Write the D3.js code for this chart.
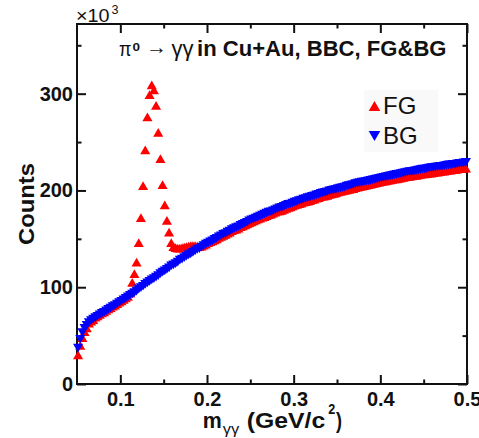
<!DOCTYPE html>
<html><head><meta charset="utf-8">
<script src="https://cdn.jsdelivr.net/npm/d3@7"></script>
<style>
html,body{margin:0;padding:0;background:#fff;}
svg{display:block;}
text{font-family:"Liberation Sans",Arial,Helvetica,sans-serif;}
</style></head><body>
<svg id="chart" width="479" height="438"></svg>
<script>
// ---- data (counts in units of 10^3) ----
const binStart = 0.05125;   // centre of first mass bin (GeV/c^2)
const binWidth = 0.0025;
const bgCounts = [37,46,53,57.5,60.5,63.5,65.5,67,68.5,70,
71.5,73,74,75.5,77,78.5,80,81,82.5,84,
85.5,87,88.5,90,91.5,93,94.5,96,98,99.5,
101,103,104.5,106,107.5,109,110.5,112,114,115.5,
117,118.5,120,122,123,124.5,126,128,129,130.5,
132,133.5,134.5,136,137.5,139,140,141.5,143,144.5,
145.5,147,148,149.5,150.5,152,153,154.5,155.5,157,
158,159.5,160.5,161.5,162.5,164,165,166,167,168.5,
169.5,170.5,171.5,172.5,173.5,174.5,175.5,176.5,177.5,178,
179,180,181,182,182.5,183.5,184.5,185.5,186,187,
188,188.5,189.5,190,191,191.5,192.5,193,194,194.5,
195.5,196,197,197.5,198,198.5,199.5,200,200.5,201,
202,202.5,203,203.5,204.5,205,205.5,206,207,207.5,
208,208.5,209,209.5,210,210.5,211,211.5,212,212.5,
213,213.5,214,214.5,215,215.5,216,216.5,217,217.5,
218,218.5,219,219.5,219.5,220,220.5,221,221.5,222,
222,222.5,223,223.5,223.5,224,224.5,225,225,225.5,
226,226.5,226.5,227,227,227.5,228,228,228.5,229];
const fgCounts = [30,40,48,54,58,63,65,66.5,69,70.5,
72,73.5,74.5,76,77.5,79,80.5,81.5,83,84.5,
86,87.5,89,90.5,94,105,114,126,146,172,
205,242,276,299,309,304,288,260,233,206,
185,169,157,146,142,141,140.5,140.5,141,141.5,
142,142.5,143,143,143,142.5,142,142.5,143.5,144.5,
146,147,148,149,150,151.5,152.5,153.5,154.5,156,
157,158.5,159.5,160,161,162.5,163.5,164.5,165.5,166.5,
167.5,168.5,169.5,170.5,171.5,172.5,173,174,175,175.5,
176.5,177.5,178.5,179,179.5,180.5,181.5,182.5,183,184,
185,185.5,186.5,187,188,188.5,189,189.5,190.5,191,
192,192.5,193.5,194,194.5,195,196,196.5,197,197.5,
198.5,199,199.5,200,200.5,201,201.5,202,203,203.5,
204,204.5,205,205.5,206,206.5,207,207.5,208,208.5,
209,209.5,210,210.5,211,211.5,212,212,212.5,213,
213.5,214,214.5,214.5,215,215.5,215.5,216,216.5,217,
217,217.5,218,218,218.5,219,219,219.5,220,220,
220.5,221,221,221.5,221.5,222,222.5,222.5,223,223];
const seriesNames = ["FG", "BG"];
const seriesColors = ["#ff0000", "#0000ff"];
const xDomain = [0.05, 0.5];
const yDomain = [0, 372];
const xTicks = [0.1, 0.2, 0.3, 0.4, 0.5];
const xTickLabels = ["0.1", "0.2", "0.3", "0.4", "0.5"];
const xMinorTicks = [0.15, 0.25, 0.35, 0.45];
const yTicks = [0, 100, 200, 300];
const yTickLabels = ["0", "100", "200", "300"];
const yMinorTicks = [50, 150, 250, 350];

// ---- layout ----
const L = 77, R = 467, T = 24, B = 384;
const svg = d3.select("#chart");
const x = d3.scaleLinear().domain(xDomain).range([L, R]);
const y = d3.scaleLinear().domain(yDomain).range([B, T]);
const masses = bgCounts.map((_, i) => binStart + i * binWidth);

const ink = "#111";
function styleAxis(g) {
  g.select(".domain").remove();
  g.selectAll(".tick line").attr("stroke", ink).attr("stroke-width", 2);
  g.selectAll(".tick text").attr("fill", ink).attr("font-size", 20).attr("font-weight", "bold")
    .attr("font-family", "'Liberation Sans',Arial,sans-serif");
}
const fmtX = d => xTickLabels[xTicks.indexOf(d)];
const fmtY = d => yTickLabels[yTicks.indexOf(d)];

// bottom axis
svg.append("g").attr("transform", `translate(0,${B})`)
  .call(d3.axisBottom(x).tickValues(xTicks).tickFormat(fmtX).tickSizeInner(-9).tickSizeOuter(0).tickPadding(8))
  .call(styleAxis);
svg.append("g").attr("transform", `translate(0,${B})`)
  .call(d3.axisBottom(x).tickValues(xMinorTicks).tickFormat("").tickSizeInner(-4.5).tickSizeOuter(0))
  .call(styleAxis);
// top axis
svg.append("g").attr("transform", `translate(0,${T})`)
  .call(d3.axisTop(x).tickValues(xTicks).tickFormat("").tickSizeInner(-9).tickSizeOuter(0))
  .call(styleAxis);
svg.append("g").attr("transform", `translate(0,${T})`)
  .call(d3.axisTop(x).tickValues(xMinorTicks).tickFormat("").tickSizeInner(-4.5).tickSizeOuter(0))
  .call(styleAxis);
// left axis
svg.append("g").attr("transform", `translate(${L},0)`)
  .call(d3.axisLeft(y).tickValues(yTicks).tickFormat(fmtY).tickSizeInner(-9).tickSizeOuter(0).tickPadding(4))
  .call(styleAxis);
svg.append("g").attr("transform", `translate(${L},0)`)
  .call(d3.axisLeft(y).tickValues(yMinorTicks).tickFormat("").tickSizeInner(-4.5).tickSizeOuter(0))
  .call(styleAxis);
// right axis
svg.append("g").attr("transform", `translate(${R},0)`)
  .call(d3.axisRight(y).tickValues(yTicks).tickFormat("").tickSizeInner(-9).tickSizeOuter(0))
  .call(styleAxis);
svg.append("g").attr("transform", `translate(${R},0)`)
  .call(d3.axisRight(y).tickValues(yMinorTicks).tickFormat("").tickSizeInner(-4.5).tickSizeOuter(0))
  .call(styleAxis);

// frame
svg.append("rect").attr("x", L).attr("y", T).attr("width", R - L).attr("height", B - T)
  .attr("fill", "none").attr("stroke", ink).attr("stroke-width", 2);

// ---- markers (triangle centred on its bounding box) ----
const triUp = { draw(ctx, size) {
  const w = Math.sqrt(4 * size / Math.sqrt(3)), h = w * Math.sqrt(3) / 2;
  ctx.moveTo(0, -h / 2); ctx.lineTo(w / 2, h / 2); ctx.lineTo(-w / 2, h / 2); ctx.closePath();
}};
const triDown = { draw(ctx, size) {
  const w = Math.sqrt(4 * size / Math.sqrt(3)), h = w * Math.sqrt(3) / 2;
  ctx.moveTo(0, h / 2); ctx.lineTo(w / 2, -h / 2); ctx.lineTo(-w / 2, -h / 2); ctx.closePath();
}};
const markerSize = 44;
const upPath = d3.symbol().type(triUp).size(markerSize)();
const downPath = d3.symbol().type(triDown).size(markerSize)();

const fgData = masses.map((m, i) => ({ m, v: fgCounts[i] }));
const bgData = masses.map((m, i) => ({ m, v: bgCounts[i] }));

svg.append("g").selectAll("path").data(fgData).join("path")
  .attr("d", upPath).attr("fill", seriesColors[0])
  .attr("transform", d => `translate(${x(d.m)},${y(d.v)})`);
svg.append("g").selectAll("path").data(bgData).join("path")
  .attr("d", downPath).attr("fill", seriesColors[1])
  .attr("transform", d => `translate(${x(d.m)},${y(d.v)})`);

// ---- legend ----
const lg = svg.append("g");
lg.append("rect").attr("x", 364).attr("y", 90).attr("width", 74).attr("height", 62).attr("fill", "#f9f9f9");
const legPaths = [d3.symbol().type(triUp).size(58)(), d3.symbol().type(triDown).size(58)()];
seriesNames.forEach((name, i) => {
  const cy = 106 + i * 30;
  lg.append("path").attr("d", legPaths[i]).attr("fill", seriesColors[i])
    .attr("transform", `translate(374.5,${cy})`);
  lg.append("text").attr("x", 383).attr("y", cy + 8).attr("font-size", 24)
    .attr("fill", ink).text(name);
});

// ---- title ----
const serif = "'Liberation Serif','Times New Roman',serif";
function piece(xp, yp, txt, size, opts = {}) {
  const t = svg.append("text").attr("x", xp).attr("y", yp).attr("font-size", size).attr("fill", ink).text(txt);
  if (opts.serif) t.attr("font-family", serif);
  if (opts.bold) t.attr("font-weight", "bold");
  if (opts.len) t.attr("textLength", opts.len).attr("lengthAdjust", "spacingAndGlyphs");
  return t;
}
piece(119, 56, "π", 21, { serif: true, len: 12.5 });
piece(132.5, 51, "0", 11, { bold: true, len: 7.5 });
piece(146, 54, "→", 20, { serif: true, len: 21 });
piece(171.5, 56, "γγ", 22, { serif: true, len: 22 });
piece(197, 56, "in Cu+Au, BBC, FG&BG", 22, { bold: true, len: 249.5 });

// ---- exponent label ----
piece(76, 22, "×10", 19, { len: 33.5 });
piece(111.5, 14, "3", 13, { len: 7 });

// ---- axis titles ----
piece(202.7, 428, "m", 22, { bold: true, len: 19 });
piece(222.7, 434, "γγ", 14, { serif: true, len: 16.5 });
piece(246.7, 428, "(GeV/c", 22, { bold: true, len: 78.5 });
piece(328.3, 414, "2", 14, { bold: true, len: 7 });
piece(336, 428, ")", 22, { bold: true, len: 6 });

svg.append("text").attr("transform", "translate(34,204) rotate(-90)").attr("text-anchor", "middle")
  .attr("font-size", 22).attr("font-weight", "bold").attr("fill", ink)
  .attr("textLength", 82).attr("lengthAdjust", "spacingAndGlyphs").text("Counts");
</script>
</body></html>
